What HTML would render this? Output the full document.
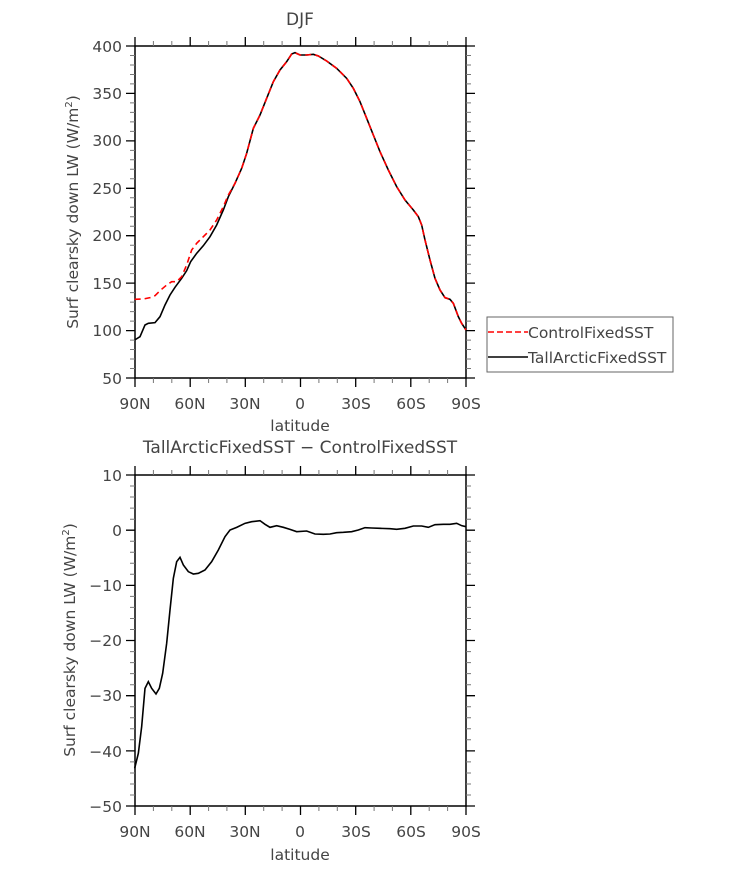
<!DOCTYPE html>
<html><head><style>
body{margin:0;background:#fff;}
svg text{font-family:"DejaVu Sans","Liberation Sans",sans-serif;fill:#444;}
</style></head><body>
<svg width="733" height="866" viewBox="0 0 733 866" xmlns="http://www.w3.org/2000/svg">
<!-- TOP -->
<text x="300" y="25" font-size="17" text-anchor="middle">DJF</text>
<rect x="135" y="46" width="331" height="332" fill="none" stroke="#000" stroke-width="1.5"/>
<g stroke="#000" stroke-width="1.3">
<path d="M126 46H135M126 93.4H135M126 140.9H135M126 188.3H135M126 235.7H135M126 283.1H135M126 330.6H135M126 378H135"/>
<path d="M466 46H475M466 93.4H475M466 140.9H475M466 188.3H475M466 235.7H475M466 283.1H475M466 330.6H475M466 378H475"/>
<path d="M135 37V46M190.2 37V46M245.3 37V46M300.5 37V46M355.7 37V46M410.8 37V46M466 37V46"/>
<path d="M135 378V387M190.2 378V387M245.3 378V387M300.5 378V387M355.7 378V387M410.8 378V387M466 378V387"/>
</g>
<g stroke="#777" stroke-width="1">
<path d="M153.4 41V46M171.8 41V46M208.6 41V46M226.9 41V46M263.7 41V46M282.1 41V46M318.9 41V46M337.3 41V46M374.1 41V46M392.4 41V46M429.2 41V46M447.6 41V46"/>
<path d="M153.4 378V383M171.8 378V383M208.6 378V383M226.9 378V383M263.7 378V383M282.1 378V383M318.9 378V383M337.3 378V383M374.1 378V383M392.4 378V383M429.2 378V383M447.6 378V383"/>
<path d="M130 55.5H135M130 65H135M130 74.5H135M130 83.9H135M130 102.9H135M130 112.4H135M130 121.9H135M130 131.4H135M130 150.4H135M130 159.8H135M130 169.3H135M130 178.8H135M130 197.8H135M130 207.3H135M130 216.7H135M130 226.2H135M130 245.2H135M130 254.7H135M130 264.2H135M130 273.6H135M130 292.6H135M130 302.1H135M130 311.6H135M130 321.1H135M130 340.1H135M130 349.5H135M130 359H135M130 368.5H135"/>
<path d="M466 55.5H471M466 65H471M466 74.5H471M466 83.9H471M466 102.9H471M466 112.4H471M466 121.9H471M466 131.4H471M466 150.4H471M466 159.8H471M466 169.3H471M466 178.8H471M466 197.8H471M466 207.3H471M466 216.7H471M466 226.2H471M466 245.2H471M466 254.7H471M466 264.2H471M466 273.6H471M466 292.6H471M466 302.1H471M466 311.6H471M466 321.1H471M466 340.1H471M466 349.5H471M466 359H471M466 368.5H471"/>
</g>
<g font-size="15.5" text-anchor="end">
<text x="122" y="52">400</text><text x="122" y="99">350</text><text x="122" y="146">300</text><text x="122" y="194">250</text><text x="122" y="241">200</text><text x="122" y="289">150</text><text x="122" y="336">100</text><text x="122" y="384">50</text>
</g>
<g font-size="15.5" text-anchor="middle">
<text x="135" y="409">90N</text><text x="190" y="409">60N</text><text x="245" y="409">30N</text><text x="300" y="409">0</text><text x="356" y="409">30S</text><text x="411" y="409">60S</text><text x="466" y="409">90S</text>
<text x="300" y="431">latitude</text>
</g>
<text transform="translate(78,212) rotate(-90)" font-size="15.5" text-anchor="middle">Surf clearsky down LW (W/m<tspan font-size="10" dy="-6">2</tspan><tspan dy="6">)</tspan></text>
<g transform="translate(60,0) scale(0.33333)" fill="none">
<polyline vector-effect="non-scaling-stroke" stroke="#000" stroke-width="1.6" points="224,1020 240,1010 255,975 265,970 285,968 300,950 315,915 330,885 345,862 365,835 380,812 392,785 410,760 430,737 450,710 470,675 490,630 505,590 525,550 545,505 560,460 580,385 600,345 620,295 640,245 660,210 680,185 695,162 705,158 720,165 740,165 760,163 775,168 800,183 830,205 860,235 880,265 900,305 920,355 940,405 960,455 985,510 1010,560 1035,600 1060,630 1075,650 1085,675 1095,720 1110,780 1125,835 1140,870 1155,893 1170,898 1180,910 1195,950 1205,970 1218,990"/>
<polyline vector-effect="non-scaling-stroke" stroke="#f00" stroke-width="1.6" stroke-dasharray="6,4" points="224,898 250,897 270,893 285,887 300,872 320,855 335,845 350,845 365,830 380,795 395,750 410,730 430,710 450,690 470,660 490,620 505,585 525,550 545,505 560,460 580,385 600,345 620,295 640,245 660,210 680,185 695,162 705,158 720,165 740,165 760,163 775,168 800,183 830,205 860,235 880,265 900,305 920,355 940,405 960,455 985,510 1010,560 1035,600 1060,630 1075,650 1085,675 1095,720 1110,780 1125,835 1140,870 1155,893 1170,898 1180,910 1195,950 1205,970 1218,990"/>
</g>
<!-- legend -->
<rect x="487" y="317" width="186" height="55" fill="#fff" stroke="#666" stroke-width="1"/>
<line x1="488" y1="332" x2="528" y2="332" stroke="#f00" stroke-width="1.5" stroke-dasharray="6,3"/>
<line x1="488" y1="357" x2="528" y2="357" stroke="#000" stroke-width="1.5"/>
<text x="528" y="338" font-size="15.5" fill="#333">ControlFixedSST</text>
<text x="528" y="363" font-size="15.5" fill="#333">TallArcticFixedSST</text>

<!-- BOTTOM -->
<text x="300" y="453" font-size="17" text-anchor="middle">TallArcticFixedSST − ControlFixedSST</text>
<rect x="135" y="475" width="331" height="331" fill="none" stroke="#000" stroke-width="1.5"/>
<g stroke="#000" stroke-width="1.3">
<path d="M126 475H135M126 530.2H135M126 585.4H135M126 640.5H135M126 695.7H135M126 750.9H135M126 806H135"/>
<path d="M466 475H475M466 530.2H475M466 585.4H475M466 640.5H475M466 695.7H475M466 750.9H475M466 806H475"/>
<path d="M135 466V475M190.2 466V475M245.3 466V475M300.5 466V475M355.7 466V475M410.8 466V475M466 466V475"/>
<path d="M135 806V815M190.2 806V815M245.3 806V815M300.5 806V815M355.7 806V815M410.8 806V815M466 806V815"/>
</g>
<g stroke="#777" stroke-width="1">
<path d="M153.4 470V475M171.8 470V475M208.6 470V475M226.9 470V475M263.7 470V475M282.1 470V475M318.9 470V475M337.3 470V475M374.1 470V475M392.4 470V475M429.2 470V475M447.6 470V475"/>
<path d="M153.4 806V811M171.8 806V811M208.6 806V811M226.9 806V811M263.7 806V811M282.1 806V811M318.9 806V811M337.3 806V811M374.1 806V811M392.4 806V811M429.2 806V811M447.6 806V811"/>
<path d="M130 486H135M130 497H135M130 508.1H135M130 519.2H135M130 541.2H135M130 552.3H135M130 563.3H135M130 574.3H135M130 596.4H135M130 607.4H135M130 618.5H135M130 629.5H135M130 651.6H135M130 662.6H135M130 673.6H135M130 684.7H135M130 706.7H135M130 717.8H135M130 728.8H135M130 739.8H135M130 761.9H135M130 773H135M130 784H135M130 795H135"/>
<path d="M466 486H471M466 497H471M466 508.1H471M466 519.2H471M466 541.2H471M466 552.3H471M466 563.3H471M466 574.3H471M466 596.4H471M466 607.4H471M466 618.5H471M466 629.5H471M466 651.6H471M466 662.6H471M466 673.6H471M466 684.7H471M466 706.7H471M466 717.8H471M466 728.8H471M466 739.8H471M466 761.9H471M466 773H471M466 784H471M466 795H471"/>
</g>
<g font-size="15.5" text-anchor="end">
<text x="122" y="481">10</text><text x="122" y="536">0</text><text x="122" y="591">−10</text><text x="122" y="646">−20</text><text x="122" y="701">−30</text><text x="122" y="757">−40</text><text x="122" y="812">−50</text>
</g>
<g font-size="15.5" text-anchor="middle">
<text x="135" y="837">90N</text><text x="190" y="837">60N</text><text x="245" y="837">30N</text><text x="300" y="837">0</text><text x="356" y="837">30S</text><text x="411" y="837">60S</text><text x="466" y="837">90S</text>
<text x="300" y="860">latitude</text>
</g>
<text transform="translate(75,640) rotate(-90)" font-size="15.5" text-anchor="middle">Surf clearsky down LW (W/m<tspan font-size="10" dy="-6">2</tspan><tspan dy="6">)</tspan></text>
<g transform="translate(60,430) scale(0.33333)" fill="none">
<polyline vector-effect="non-scaling-stroke" stroke="#000" stroke-width="1.6" points="224,1015 235,970 245,890 255,775 265,755 275,775 288,792 298,775 308,730 320,640 330,540 340,445 350,395 360,382 370,405 385,425 400,432 415,430 435,420 455,395 475,360 495,320 510,300 530,292 555,280 575,275 600,272 615,283 630,292 650,287 670,292 690,298 710,305 740,303 765,312 790,313 810,312 830,308 850,307 875,305 895,300 915,293 935,294 960,295 990,296 1010,298 1035,295 1060,288 1085,288 1105,292 1125,284 1150,283 1170,283 1190,280 1205,287 1218,290"/>
</g>
</svg>
</body></html>
